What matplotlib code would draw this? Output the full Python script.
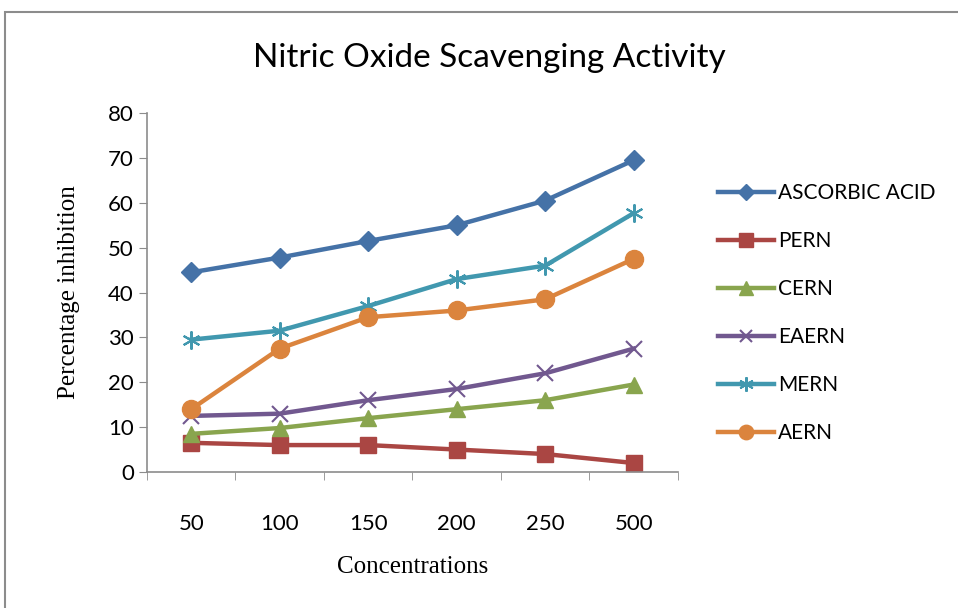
import numpy as np
import matplotlib.pyplot as plt
from matplotlib.patches import Rectangle

# Data
concentrations = ["50", "100", "150", "200", "250", "500"]
ascorbic_acid = [44.5, 47.8, 51.5, 55.0, 60.5, 69.5]
pern = [6.5, 6.0, 6.0, 5.0, 4.0, 2.0]
cern = [8.5, 9.8, 12.0, 14.0, 16.0, 19.5]
eaern = [12.5, 13.0, 16.0, 18.5, 22.0, 27.5]
mern = [29.5, 31.5, 37.0, 43.0, 46.0, 57.7]
aern = [14.0, 27.5, 34.5, 36.0, 38.5, 47.5]

fig = plt.figure(figsize=(9.58, 6.08), dpi=100)
ax = fig.add_axes([0.1534, 0.2237, 0.5543, 0.5903])

# outer chart border
fig.patches.append(Rectangle((5 / 958, -0.1), 1.1, 1.1 - 12 / 608, transform=fig.transFigure,
                             fill=False, edgecolor="#8c8c8c", linewidth=1.5))

x = np.arange(len(concentrations))
lw = 3.2
ax.plot(x, ascorbic_acid, color="#4572a7", lw=lw, marker="D", ms=10, label="ASCORBIC ACID")
ax.plot(x, pern, color="#aa4643", lw=lw, marker="s", ms=12, label="PERN")
ax.plot(x, cern, color="#89a54e", lw=lw, marker="^", ms=12, label="CERN")
ax.plot(x, eaern, color="#71588f", lw=lw, marker="x", ms=11, mew=1.5, label="EAERN")
ax.plot(x, mern, color="#4198af", lw=lw, marker=(6, 2, 0), ms=13, mew=1.5, label="MERN")
ax.plot(x, aern, color="#db843d", lw=lw, marker="o", ms=13, label="AERN")

ax.set_xlim(-0.5, len(concentrations) - 0.5)
ax.set_ylim(0, 80)
ax.set_yticks(range(0, 81, 10))
ax.set_xticks(x)
ax.set_xticklabels(concentrations)
ax.set_xticks(np.arange(-0.5, len(concentrations), 1), minor=True)
ax.tick_params(axis="x", which="major", length=0, pad=30)
ax.tick_params(axis="x", which="minor", length=6, color="#8c8c8c")
ax.tick_params(axis="y", length=6, color="#8c8c8c", direction="out")
for lab in ax.get_xticklabels() + ax.get_yticklabels():
    lab.set_fontfamily("Lato")
    lab.set_fontsize(16)

for s in ["top", "right"]:
    ax.spines[s].set_visible(False)
for s in ["left", "bottom"]:
    ax.spines[s].set_color("#8c8c8c")
    ax.spines[s].set_linewidth(1.2)

fig.text(0.511, 0.905, "Nitric Oxide Scavenging Activity", ha="center", va="center",
         fontsize=24, family="Lato")
ax.set_xlabel("Concentrations", family="Liberation Serif", fontsize=18, labelpad=16)
ax.set_ylabel("Percentage inhibition", family="Liberation Serif", fontsize=18, labelpad=20)

leg = fig.legend(loc="center left", bbox_to_anchor=(718 / 958, 0.485), frameon=False,
                 prop={"family": "Lato", "size": 15}, handlelength=2.7, markerscale=0.8,
                 handletextpad=0.2, labelspacing=1.35, borderaxespad=0, borderpad=0)

fig.savefig("out.png", dpi=100)
